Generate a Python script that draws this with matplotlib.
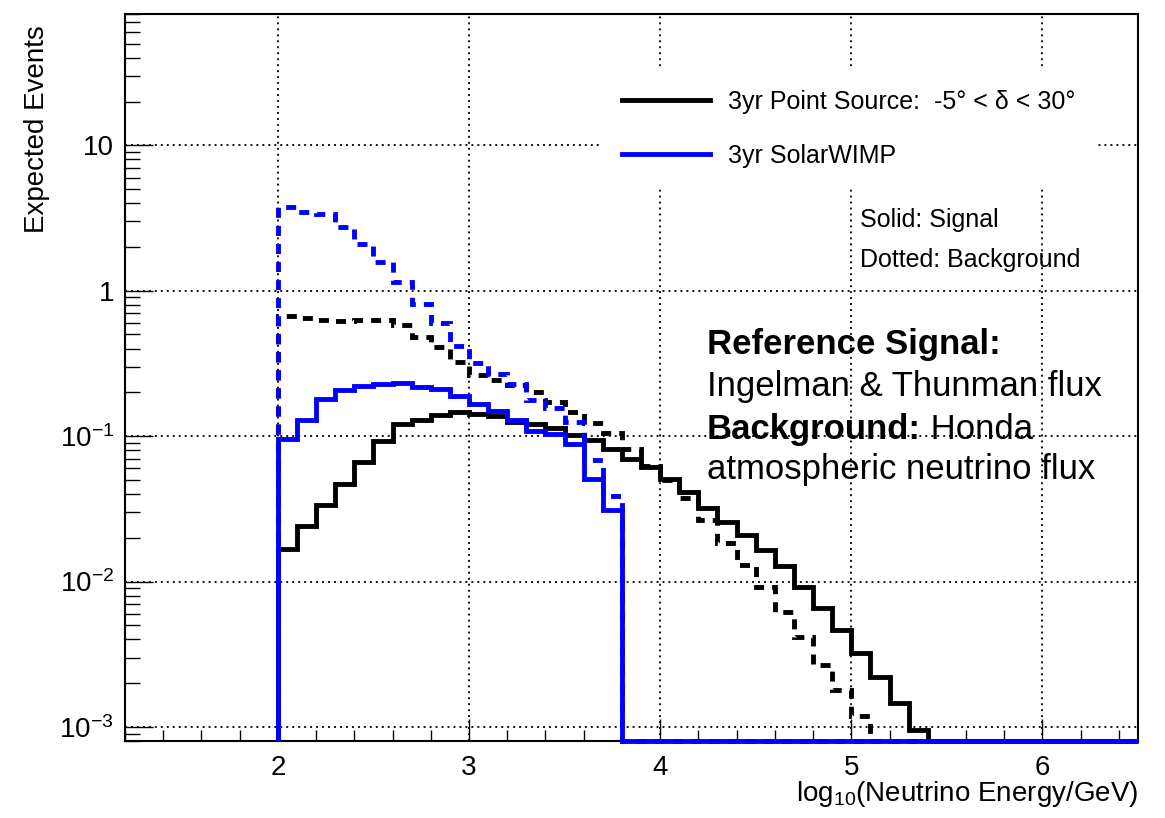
import matplotlib
matplotlib.use('Agg')
import matplotlib.pyplot as plt
from matplotlib.lines import Line2D
from matplotlib.ticker import FixedLocator, MultipleLocator, LogLocator, NullFormatter
import numpy as np

plt.rcParams['font.family'] = ['Liberation Sans', 'DejaVu Sans']
plt.rcParams['mathtext.fontset'] = 'custom'
plt.rcParams['mathtext.rm'] = 'Liberation Sans'
plt.rcParams['mathtext.it'] = 'Liberation Sans:italic'
plt.rcParams['mathtext.bf'] = 'Liberation Sans:bold'
plt.rcParams['lines.scale_dashes'] = False

# expected events per 0.1 bin of log10(E/GeV); first bin starts at 2.0,
# bins not listed are empty
ps_signal = [0.0167, 0.0241, 0.0336, 0.0468, 0.0665, 0.0925, 0.122, 0.130, 0.140, 0.146,
             0.141, 0.137, 0.126, 0.122, 0.113, 0.102, 0.094, 0.082, 0.070, 0.061,
             0.0505, 0.0414, 0.0322, 0.0255, 0.0209, 0.0166, 0.0127, 0.0092, 0.00654, 0.00465,
             0.00321, 0.00222, 0.00146, 0.00095]
ps_background = [0.668, 0.650, 0.627, 0.617, 0.624, 0.633, 0.579, 0.481, 0.411, 0.322,
                 0.263, 0.242, 0.224, 0.202, 0.172, 0.147, 0.124, 0.105, 0.081, 0.062,
                 0.050, 0.0373, 0.0265, 0.0185, 0.0130, 0.0092, 0.0062, 0.00415, 0.00268, 0.00179,
                 0.00118]
wimp_signal = [0.095, 0.130, 0.181, 0.207, 0.221, 0.230, 0.231, 0.216, 0.211, 0.188,
               0.167, 0.149, 0.130, 0.108, 0.103, 0.088, 0.051, 0.031]
wimp_background = [3.77, 3.47, 3.39, 2.74, 2.08, 1.58, 1.15, 0.816, 0.604, 0.418,
                   0.316, 0.267, 0.227, 0.177, 0.157, 0.125, 0.068, 0.0388]

bin_edges = np.round(np.arange(2.0, 6.55, 0.1), 1)

x_ticks = [2, 3, 4, 5, 6]
y_ticks = [1e-3, 1e-2, 1e-1, 1, 10]
y_tick_labels = [r'$10^{-3}$', r'$10^{-2}$', r'$10^{-1}$', '1', '10']

legend_labels = ['3yr Point Source:  -5° < δ < 30°', '3yr SolarWIMP']

YMIN, YMAX = 8e-4, 80
DASHED = (0, (7.2, 5.8))


def pad_bins(vals):
    # empty bins sit on the lower frame edge, like ROOT does on a log axis
    out = np.zeros(len(bin_edges) - 1)
    out[:len(vals)] = vals
    return np.clip(out, YMIN, None)


fig = plt.figure(figsize=(11.65, 8.18), dpi=100)
ax = fig.add_axes([0.1073, 0.0941, 0.8695, 0.8888])
ax.set_yscale('log')
ax.set_xlim(1.2, 6.5)
ax.set_ylim(YMIN, YMAX)

ax.stairs(pad_bins(ps_signal), bin_edges, baseline=YMIN, color='black', lw=3.5,
          zorder=3, clip_on=False)
ax.stairs(pad_bins(ps_background), bin_edges, baseline=YMIN, color='black', lw=3.5,
          linestyle=DASHED, zorder=3, clip_on=False)
ax.stairs(pad_bins(wimp_signal), bin_edges, baseline=YMIN, color='#0000ff', lw=3.5,
          zorder=4, clip_on=False)
ax.stairs(pad_bins(wimp_background), bin_edges, baseline=YMIN, color='#0000ff', lw=3.5,
          linestyle=DASHED, zorder=4, clip_on=False)

ax.set_axisbelow(True)
ax.grid(True, which='major', color='black', linestyle=(0, (1.4, 2.9)), linewidth=1.3)

ax.xaxis.set_major_locator(FixedLocator(x_ticks))
ax.xaxis.set_minor_locator(MultipleLocator(0.2))
ax.yaxis.set_major_locator(FixedLocator(y_ticks))
ax.set_yticklabels(y_tick_labels)
ax.yaxis.set_minor_locator(LogLocator(base=10, subs=np.arange(2, 10)))
ax.yaxis.set_minor_formatter(NullFormatter())

ax.tick_params(which='both', direction='in', top=False, right=False, width=1)
ax.tick_params(axis='y', which='major', length=20, pad=8, labelsize=20)
ax.tick_params(axis='y', which='minor', length=11)
ax.tick_params(axis='x', which='major', length=16, pad=10, labelsize=20)
ax.tick_params(axis='x', which='minor', length=8)
for sp in ax.spines.values():
    sp.set_linewidth(1.5)

ax.set_xlabel(r'log$_{10}$(Neutrino Energy/GeV)', fontsize=20, loc='right')
ax.xaxis.set_label_coords(1.0, -0.052)
ax.set_ylabel('Expected Events', fontsize=20, loc='top')
ax.yaxis.set_label_coords(-0.074, 0.985)

handles = [Line2D([], [], color='black', lw=3.5), Line2D([], [], color='#0000ff', lw=3.5)]
leg = ax.legend(handles, legend_labels, loc='upper left', bbox_to_anchor=(0.471, 0.923),
                borderaxespad=0, borderpad=0.8, fontsize=18, handlelength=3.5,
                handletextpad=0.75, labelspacing=1.2, frameon=True, fancybox=False,
                facecolor='white', edgecolor='white', framealpha=1)
leg.set_zorder(5)

ax.text(0.7256, 0.717, 'Solid: Signal', transform=ax.transAxes, fontsize=18, va='center')
ax.text(0.7256, 0.662, 'Dotted: Background', transform=ax.transAxes, fontsize=18, va='center')

ax.text(0.5745, 0.545, 'Reference Signal:', transform=ax.transAxes, fontsize=25,
        fontweight='bold', va='center')
ax.text(0.5745, 0.487, 'Ingelman & Thunman flux', transform=ax.transAxes, fontsize=25,
        va='center')
bg = ax.text(0.5745, 0.428, 'Background:', transform=ax.transAxes, fontsize=25,
             fontweight='bold', va='center')
ax.annotate(' Honda', xy=(1, 0), xycoords=bg, fontsize=25, va='bottom', ha='left')
ax.text(0.5745, 0.373, 'atmospheric neutrino flux', transform=ax.transAxes, fontsize=25,
        va='center')

fig.savefig('out.png', dpi=100)
